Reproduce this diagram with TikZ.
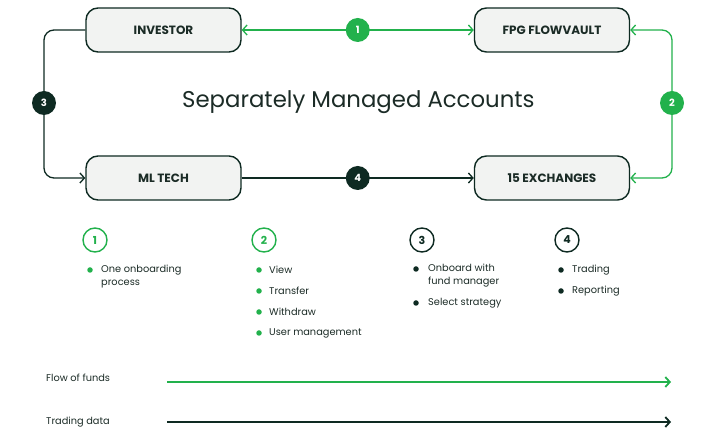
\documentclass[tikz,border=0pt]{standalone}
\usepackage{fontspec}
\setmainfont{Poppins}
\usetikzlibrary{arrows.meta}
\definecolor{grn}{HTML}{22B14C}
\definecolor{drk}{HTML}{0E2A22}
\definecolor{boxfill}{HTML}{F2F3F2}
\definecolor{txt}{HTML}{1B2B26}
\begin{document}
\begin{tikzpicture}[x=1pt,y=-1pt,
  box/.style={draw=drk, line width=1.4pt, fill=boxfill, rounded corners=12pt,
    minimum width=155pt, minimum height=44pt, inner sep=0pt,
    font=\bfseries\fontsize{12}{14}\selectfont, text=txt},
  numf/.style={circle, minimum size=24pt, inner sep=0pt,
    font=\bfseries\fontsize{10}{12}\selectfont, text=white},
  numo/.style={circle, line width=1.4pt, fill=white, minimum size=24pt, inner sep=0pt,
    font=\bfseries\fontsize{11}{12}\selectfont},
  conn/.style={line width=1.3pt, rounded corners=10pt},
  tip/.tip={Straight Barb[length=4.5pt,width=10pt]},
  dot/.style={circle, inner sep=0pt, minimum size=5.5pt},
  item/.style={anchor=west, inner sep=0pt, font=\fontsize{9.8}{13}\selectfont, text=txt, align=left},
  legend/.style={anchor=west, inner sep=0pt, font=\fontsize{9.8}{11}\selectfont, text=txt}
]
\useasboundingbox (0,0) rectangle (716,430);

% boxes
\node[box] (inv) at (163.5,30) {INVESTOR};
\node[box] (fpg) at (552,30) {FPG FLOWVAULT};
\node[box] (ml) at (163.5,178) {ML TECH};
\node[box] (exch) at (552,178) {15 EXCHANGES};

% connector 1
\draw[conn, grn, tip-tip] (inv) -- node[numf, fill=grn] (c1) {1} (fpg);

% connector 3
\coordinate (l3a) at (44,30);
\coordinate (l3b) at (44,178);
\draw[conn, drk, -tip] (inv.west) -- (l3a) -- (l3b) -- (ml.west);
\node[numf, fill=drk] (c3) at (44,103) {3};

% connector 2
\coordinate (r2a) at (672,30);
\coordinate (r2b) at (672,178);
\draw[conn, grn, tip-tip] (fpg.east) -- (r2a) -- (r2b) -- (exch.east);
\node[numf, fill=grn] (c2) at (672,103) {2};

% connector 4
\draw[conn, drk, -tip] (ml) -- node[numf, fill=drk] (c4) {4} (exch);

% title
\node[anchor=base west, inner sep=0pt, font=\fontsize{22.8}{26}\selectfont, text=txt] (title) at (182,107.5) {Separately Managed Accounts};

% key circles
\node[numo, draw=grn, text=grn] (k1) at (95,240) {1};
\node[numo, draw=grn, text=grn] (k2) at (264,240) {2};
\node[numo, draw=drk, text=drk] (k3) at (422,240) {3};
\node[numo, draw=drk, text=drk] (k4) at (567,240) {4};

% column 1
\node[dot, fill=grn] (b11) at (90,270) {};
\node[item] (t11) at (101,276.5) {One onboarding\\process};

% column 2
\node[dot, fill=grn] (b21) at (259,270) {};
\node[item] (t21) at (269,270) {View};
\node[dot, fill=grn] (b22) at (259,291) {};
\node[item] (t22) at (269,291) {Transfer};
\node[dot, fill=grn] (b23) at (259,312) {};
\node[item] (t23) at (269,312) {Withdraw};
\node[dot, fill=grn] (b24) at (259,333) {};
\node[item] (t24) at (269,333) {User management};

% column 3
\node[dot, fill=drk] (b31) at (416,269) {};
\node[item] (t31) at (428,275.5) {Onboard with\\fund manager};
\node[dot, fill=drk] (b32) at (416,303) {};
\node[item] (t32) at (428,303) {Select strategy};

% column 4
\node[dot, fill=drk] (b41) at (561,270) {};
\node[item] (t41) at (572,270) {Trading};
\node[dot, fill=drk] (b42) at (561,291) {};
\node[item] (t42) at (572,291) {Reporting};

% legend
\node[legend] (lf) at (46,378) {Flow of funds};
\coordinate (lfa) at (167,382);
\coordinate (lfb) at (671,382);
\draw[grn, line width=1.8pt, -tip] (lfa) -- (lfb);

\node[legend] (lt) at (46,422) {Trading data};
\coordinate (lta) at (167,422);
\coordinate (ltb) at (671,422);
\draw[drk, line width=1.8pt, -tip] (lta) -- (ltb);
\end{tikzpicture}
\end{document}
